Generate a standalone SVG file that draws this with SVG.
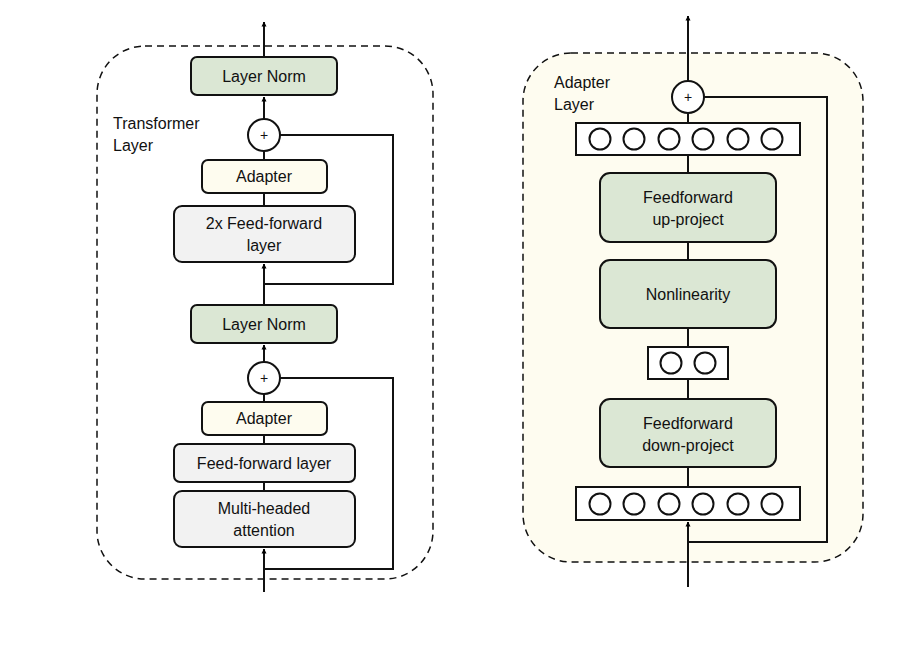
<svg xmlns="http://www.w3.org/2000/svg" width="905" height="648" viewBox="0 0 905 648">
<defs>
<marker id="ah" viewBox="0 0 10 10" refX="9" refY="5" markerWidth="5" markerHeight="6" orient="auto" markerUnits="userSpaceOnUse"><path d="M0,0 L10,5 L0,10 z" fill="#000"/></marker>
<style>
.b{stroke:#111;stroke-width:2}
.g{fill:#dbe7d4}.l{fill:#f2f2f2}.y{fill:#fefcef}.w{fill:#fff}
.c{fill:none;stroke:#111;stroke-width:2}
text{font-family:"Liberation Sans",Arial,sans-serif;font-size:16px;fill:#111}
.m{text-anchor:middle}
.d{fill:none;stroke:#111;stroke-width:1.5;stroke-dasharray:7,5}
</style>
</defs>
<rect width="905" height="648" fill="#fff"/>
<g id="transformer-layer"><rect class="d" x="97" y="46" width="336" height="533" rx="48"/><text x="113" y="129">Transformer</text><text x="113" y="151">Layer</text></g>
<g id="adapter-layer"><rect class="d" x="523" y="53" width="340" height="509" rx="48" style="fill:#fefcf0"/><text x="554" y="88">Adapter</text><text x="554" y="110">Layer</text></g>
<g id="connectors">
<path class="c" d="M264,57 V22" marker-end="url(#ah)"/>
<path class="c" d="M264,119 V97" marker-end="url(#ah)"/>
<path class="c" d="M264,160 V151"/>
<path class="c" d="M264,206 V193"/>
<path class="c" d="M280,135 H393 V284 H264"/>
<path class="c" d="M264,305 V264" marker-end="url(#ah)"/>
<path class="c" d="M264,362 V345" marker-end="url(#ah)"/>
<path class="c" d="M264,402 V394"/>
<path class="c" d="M264,444 V435"/>
<path class="c" d="M264,491 V482"/>
<path class="c" d="M280,378 H393 V569 H264"/>
<path class="c" d="M264,592 V549" marker-end="url(#ah)"/>
<path class="c" d="M688,81 V16" marker-end="url(#ah)"/>
<path class="c" d="M688,123 V113"/>
<path class="c" d="M688,173 V155"/>
<path class="c" d="M688,260 V242"/>
<path class="c" d="M688,347 V328"/>
<path class="c" d="M688,399 V379"/>
<path class="c" d="M688,487 V467"/>
<path class="c" d="M704,97 H827 V542 H688"/>
<path class="c" d="M688,587 V522" marker-end="url(#ah)"/>
</g>
<g id="ln1"><rect class="b g" x="191" y="57" width="146" height="38" rx="6"/><text class="m" x="264" y="82">Layer Norm</text></g>
<g id="add1"><circle class="b w" cx="264" cy="135" r="16"/><text class="m" x="264" y="140" style="font-size:14px">+</text></g>
<g id="adapter1"><rect class="b y" x="202" y="160" width="125" height="33" rx="6"/><text class="m" x="264" y="182">Adapter</text></g>
<g id="ff2x"><rect class="b l" x="174" y="206" width="181" height="56" rx="8"/><text class="m" x="264" y="229">2x Feed-forward</text><text class="m" x="264" y="251">layer</text></g>
<g id="ln2"><rect class="b g" x="191" y="305" width="146" height="38" rx="6"/><text class="m" x="264" y="330">Layer Norm</text></g>
<g id="add2"><circle class="b w" cx="264" cy="378" r="16"/><text class="m" x="264" y="383" style="font-size:14px">+</text></g>
<g id="adapter2"><rect class="b y" x="202" y="402" width="125" height="33" rx="6"/><text class="m" x="264" y="424">Adapter</text></g>
<g id="ff"><rect class="b l" x="174" y="444" width="181" height="38" rx="6"/><text class="m" x="264" y="469">Feed-forward layer</text></g>
<g id="mha"><rect class="b l" x="174" y="491" width="181" height="56" rx="8"/><text class="m" x="264" y="514">Multi-headed</text><text class="m" x="264" y="536">attention</text></g>
<g id="add3"><circle class="b w" cx="688" cy="97" r="16"/><text class="m" x="688" y="102" style="font-size:14px">+</text></g>
<g id="vec-top"><rect class="b w" x="576" y="123" width="224" height="32"/>
<g class="b w"><circle cx="600" cy="139" r="10.5"/><circle cx="634" cy="139" r="10.5"/><circle cx="669" cy="139" r="10.5"/><circle cx="703" cy="139" r="10.5"/><circle cx="738" cy="139" r="10.5"/><circle cx="772" cy="139" r="10.5"/></g></g>
<g id="ffup"><rect class="b g" x="600" y="173" width="176" height="69" rx="10"/><text class="m" x="688" y="203">Feedforward</text><text class="m" x="688" y="225">up-project</text></g>
<g id="nonlin"><rect class="b g" x="600" y="260" width="176" height="68" rx="10"/><text class="m" x="688" y="300">Nonlinearity</text></g>
<g id="vec-mid"><rect class="b w" x="648" y="347" width="80" height="32"/><g class="b w"><circle cx="671" cy="363" r="10.5"/><circle cx="705" cy="363" r="10.5"/></g></g>
<g id="ffdown"><rect class="b g" x="600" y="399" width="176" height="68" rx="10"/><text class="m" x="688" y="429">Feedforward</text><text class="m" x="688" y="451">down-project</text></g>
<g id="vec-bot"><rect class="b w" x="576" y="487" width="224" height="33"/>
<g class="b w"><circle cx="600" cy="504" r="10.5"/><circle cx="634" cy="504" r="10.5"/><circle cx="669" cy="504" r="10.5"/><circle cx="703" cy="504" r="10.5"/><circle cx="738" cy="504" r="10.5"/><circle cx="772" cy="504" r="10.5"/></g></g>
</svg>
